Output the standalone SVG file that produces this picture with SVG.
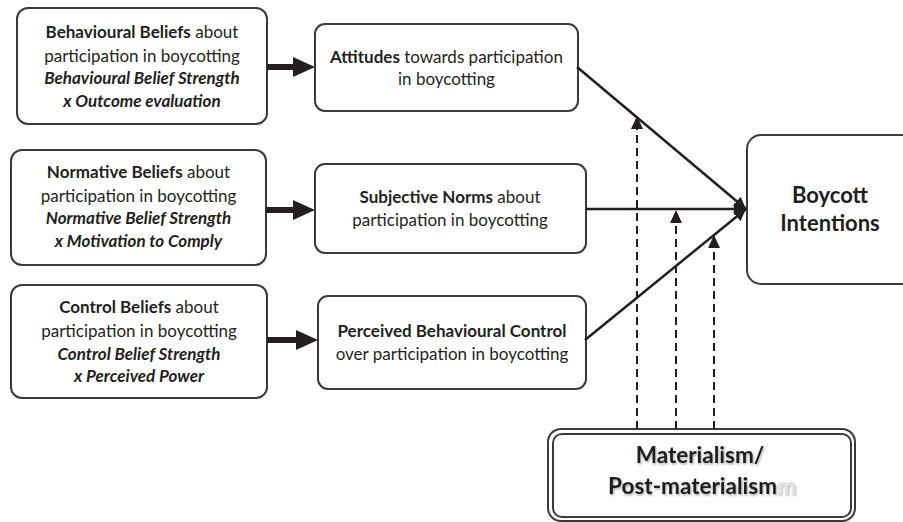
<svg xmlns="http://www.w3.org/2000/svg" width="903" height="522" viewBox="0 0 903 522">
  <style>
    .box { fill: #ffffff; stroke: #3a3a3a; stroke-width: 2; }
    .t { font-family: Lato, "Open Sans", "Liberation Sans", sans-serif; font-size: 17px; fill: #231f20; text-anchor: middle; }
    .b { font-weight: bold; }
    .bi { font-weight: bold; font-style: italic; }
    .big { font-family: Lato, "Open Sans", "Liberation Sans", sans-serif; font-weight: bold; fill: #231f20; text-anchor: middle; }
    .thick { stroke: #231f20; stroke-width: 6; fill: none; }
    .path { stroke: #231f20; stroke-width: 2.5; fill: none; }
    .dash { stroke: #231f20; stroke-width: 2; fill: none; stroke-dasharray: 8 5; }
  </style>
  <defs>
    <marker id="bigHead" markerUnits="userSpaceOnUse" markerWidth="22" markerHeight="20" refX="3" refY="10" orient="auto">
      <path d="M0,0 L22,10 L0,20 z" fill="#231f20"/>
    </marker>
    <marker id="head" markerUnits="userSpaceOnUse" markerWidth="12" markerHeight="12" refX="12" refY="6" orient="auto">
      <path d="M0,0 L12,6 L0,12 z" fill="#231f20"/>
    </marker>
    <marker id="dashHead" markerUnits="userSpaceOnUse" markerWidth="13" markerHeight="12" refX="13" refY="6" orient="auto">
      <path d="M0,0 L13,6 L0,12 z" fill="#231f20"/>
    </marker>
    <filter id="soft" x="-10%" y="-30%" width="120%" height="160%">
      <feDropShadow dx="1" dy="1.5" stdDeviation="1.2" flood-color="#000" flood-opacity="0.35"/>
    </filter>
  </defs>

  <!-- belief boxes -->
  <g id="behavioural-beliefs">
    <rect class="box" x="17" y="8" width="250" height="116" rx="11"/>
    <text class="t" x="142" y="38"><tspan class="b">Behavioural Beliefs</tspan>  about</text>
    <text class="t" x="142" y="62">participation in boycotting</text>
    <text class="t bi" x="142" y="84">Behavioural Belief Strength</text>
    <text class="t bi" x="142" y="107">x Outcome evaluation</text>
  </g>

  <g id="normative-beliefs">
    <rect class="box" x="11" y="150" width="255" height="115" rx="11"/>
    <text class="t" x="138.5" y="178"><tspan class="b">Normative Beliefs</tspan>  about</text>
    <text class="t" x="138.5" y="202">participation in boycotting</text>
    <text class="t bi" x="138.5" y="224">Normative Belief Strength</text>
    <text class="t bi" x="138.5" y="247">x Motivation to Comply</text>
  </g>

  <g id="control-beliefs">
    <rect class="box" x="11" y="285" width="256" height="113" rx="11"/>
    <text class="t" x="139" y="313"><tspan class="b">Control Beliefs</tspan> about</text>
    <text class="t" x="139" y="337">participation in boycotting</text>
    <text class="t bi" x="139" y="360">Control Belief Strength</text>
    <text class="t bi" x="139" y="382">x Perceived Power</text>
  </g>

  <!-- determinants -->
  <g id="attitudes">
    <rect class="box" x="315" y="24" width="263" height="87" rx="10"/>
    <text class="t" x="446.5" y="63"><tspan class="b">Attitudes</tspan> towards participation</text>
    <text class="t" x="446.5" y="85">in boycotting</text>
  </g>

  <g id="subjective-norms">
    <rect class="box" x="315" y="164" width="271" height="89" rx="10"/>
    <text class="t" x="450" y="203"><tspan class="b">Subjective Norms</tspan> about</text>
    <text class="t" x="450" y="226">participation in boycotting</text>
  </g>

  <g id="perceived-control">
    <rect class="box" x="318" y="296" width="268" height="93" rx="10"/>
    <text class="t b" x="452" y="337">Perceived Behavioural Control</text>
    <text class="t" x="452" y="360">over participation in boycotting</text>
  </g>

  <!-- outcome -->
  <g id="boycott-intentions">
    <rect class="box" x="747" y="135" width="170" height="149" rx="14"/>
    <text class="big" x="830" y="203" font-size="22">Boycott</text>
    <text class="big" x="830" y="231" font-size="22">Intentions</text>
  </g>

  <!-- moderator -->
  <g id="materialism">
    <rect x="548" y="429" width="307" height="92" rx="13" fill="#ffffff" stroke="#3a3a3a" stroke-width="2"/>
    <rect x="553" y="434" width="298" height="83" rx="9" fill="none" stroke="#3a3a3a" stroke-width="2"/>
    <g filter="url(#soft)">
      <text class="big" x="700" y="463" font-size="22.5">Materialism/</text>
      <text class="big" x="702" y="494" font-size="22.5">Post-materialism<tspan fill="#e4e4e4">m</tspan></text>
    </g>
  </g>

  <!-- connectors -->
  <g id="connectors">
    <line class="thick" x1="267" y1="67" x2="296" y2="67" marker-end="url(#bigHead)"/>
    <line class="thick" x1="266" y1="210" x2="296" y2="210" marker-end="url(#bigHead)"/>
    <line class="thick" x1="267" y1="340" x2="299" y2="340" marker-end="url(#bigHead)"/>

    <line class="path" x1="577" y1="67" x2="746" y2="209" marker-end="url(#head)"/>
    <line class="path" x1="586" y1="209" x2="746" y2="209" marker-end="url(#head)"/>
    <line class="path" x1="585" y1="340" x2="746" y2="209" marker-end="url(#head)"/>

    <line class="dash" x1="637" y1="429" x2="637" y2="116" marker-end="url(#dashHead)"/>
    <line class="dash" x1="676" y1="429" x2="676" y2="210" marker-end="url(#dashHead)"/>
    <line class="dash" x1="714" y1="429" x2="714" y2="235" marker-end="url(#dashHead)"/>
  </g>
</svg>
